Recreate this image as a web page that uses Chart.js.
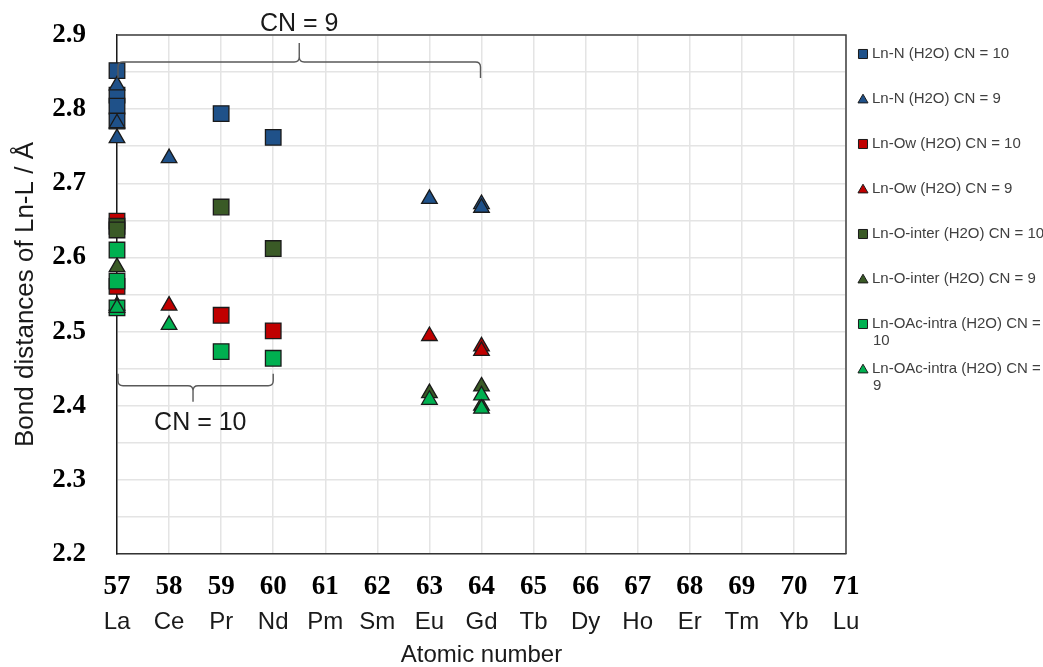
<!DOCTYPE html>
<html>
<head>
<meta charset="utf-8">
<title>Ln-L bond distances</title>
<script src="https://cdn.jsdelivr.net/npm/chart.js@4.4.0/dist/chart.umd.min.js"></script>
<style>
  html, body { margin: 0; padding: 0; background: #fff; }
  #wrap { width: 1043px; height: 667px; }
</style>
</head>
<body>
<div id="wrap"><canvas id="chart" width="1043" height="667"></canvas></div>
<script>
// x axis: atomic number + element symbol
const atomicNumbers = [57, 58, 59, 60, 61, 62, 63, 64, 65, 66, 67, 68, 69, 70, 71];
const elementSymbols = ['La', 'Ce', 'Pr', 'Nd', 'Pm', 'Sm', 'Eu', 'Gd', 'Tb', 'Dy', 'Ho', 'Er', 'Tm', 'Yb', 'Lu'];

const seriesNames = [
    'Ln-N (H2O) CN = 10',
    'Ln-N (H2O) CN = 9',
    'Ln-Ow (H2O) CN = 10',
    'Ln-Ow (H2O) CN = 9',
    'Ln-O-inter (H2O) CN = 10',
    'Ln-O-inter (H2O) CN = 9',
    'Ln-OAc-intra (H2O) CN = 10',
    'Ln-OAc-intra (H2O) CN = 9'
];

// bond distances (Å)
const lnN10X = [57, 57, 57, 57, 59, 60];
const lnN10Y = [2.852, 2.819, 2.804, 2.784, 2.794, 2.762];
const lnN9X = [57, 57, 57, 58, 63, 64, 64];
const lnN9Y = [2.832, 2.781, 2.761, 2.734, 2.679, 2.672, 2.667];
const lnOw10X = [57, 57, 59, 60];
const lnOw10Y = [2.649, 2.561, 2.522, 2.501];
const lnOw9X = [58, 63, 64, 64];
const lnOw9Y = [2.535, 2.494, 2.480, 2.474];
const lnOinter10X = [57, 57, 59, 60];
const lnOinter10Y = [2.642, 2.637, 2.668, 2.612];
const lnOinter9X = [57, 57, 63, 64, 64];
const lnOinter9Y = [2.587, 2.535, 2.417, 2.426, 2.400];
const lnOAc10X = [57, 57, 57, 59, 60];
const lnOAc10Y = [2.610, 2.568, 2.532, 2.473, 2.464];
const lnOAc9X = [57, 58, 63, 64, 64];
const lnOAc9Y = [2.532, 2.509, 2.408, 2.414, 2.396];

const blue = '#1f5189';
const red = '#c00000';
const darkGreen = '#3a5a26';
const green = '#00b050';

function toPoints(xs, ys) {
    return xs.map((x, i) => ({x: x, y: ys[i]}));
}

// square for CN = 10, triangle for CN = 9
function makeSet(i, xs, ys, color, shape) {
    return {
        label: seriesNames[i],
        data: toPoints(xs, ys),
        backgroundColor: color,
        borderColor: '#1a1a1a',
        borderWidth: 1.3,
        pointStyle: shape,
        pointRadius: shape === 'rect' ? 11 : 9,
        pointHoverRadius: shape === 'rect' ? 11 : 9,
        showLine: false,
        clip: false,
        order: 8 - i  // later series on top like the original
    };
}

const datasets = [
    makeSet(0, lnN10X, lnN10Y, blue, 'rect'),
    makeSet(1, lnN9X, lnN9Y, blue, 'triangle'),
    makeSet(2, lnOw10X, lnOw10Y, red, 'rect'),
    makeSet(3, lnOw9X, lnOw9Y, red, 'triangle'),
    makeSet(4, lnOinter10X, lnOinter10Y, darkGreen, 'rect'),
    makeSet(5, lnOinter9X, lnOinter9Y, darkGreen, 'triangle'),
    makeSet(6, lnOAc10X, lnOAc10Y, green, 'rect'),
    makeSet(7, lnOAc9X, lnOAc9Y, green, 'triangle')
];

const sansFont = '"Liberation Sans", Arial, sans-serif';
const serifFont = '"Liberation Serif", "Times New Roman", serif';

// draws a curly bracket, dir = 1 -> ends point down, tip points up
function drawBrace(ctx, x1, x2, xm, y, dir, endLen, tipLen) {
    const r = 5;
    ctx.beginPath();
    ctx.moveTo(x1, y + dir * endLen);
    ctx.lineTo(x1, y + dir * r);
    ctx.quadraticCurveTo(x1, y, x1 + r, y);
    ctx.lineTo(xm - r, y);
    ctx.quadraticCurveTo(xm, y, xm, y - dir * r);
    ctx.lineTo(xm, y - dir * tipLen);
    ctx.moveTo(xm, y - dir * r);
    ctx.quadraticCurveTo(xm, y, xm + r, y);
    ctx.lineTo(x2 - r, y);
    ctx.quadraticCurveTo(x2, y, x2, y + dir * r);
    ctx.lineTo(x2, y + dir * endLen);
    ctx.stroke();
}

// frame, CN brackets and the side legend
const extrasPlugin = {
    id: 'extras',
    afterDraw(chart) {
        const ctx = chart.ctx;
        const area = chart.chartArea;
        const xs = chart.scales.x;
        const ys = chart.scales.y;
        ctx.save();

        // top + right frame lines
        ctx.strokeStyle = '#404040';
        ctx.lineWidth = 1.5;
        ctx.beginPath();
        ctx.moveTo(area.left, area.top);
        ctx.lineTo(area.right, area.top);
        ctx.lineTo(area.right, area.bottom);
        ctx.stroke();

        // brackets
        ctx.strokeStyle = '#595959';
        ctx.lineWidth = 1.4;
        drawBrace(ctx, xs.getPixelForValue(57) + 1, xs.getPixelForValue(64) - 1, xs.getPixelForValue(60.5),
            ys.getPixelForValue(2.8635), 1, 16, 19);
        drawBrace(ctx, xs.getPixelForValue(57) + 1, xs.getPixelForValue(60), xs.getPixelForValue(58.46),
            ys.getPixelForValue(2.427), -1, 12, 16);

        ctx.fillStyle = '#1a1a1a';
        ctx.font = '25px ' + sansFont;
        ctx.textAlign = 'center';
        ctx.textBaseline = 'middle';
        ctx.fillText('CN = 9', xs.getPixelForValue(60.5), area.top - 11);
        ctx.fillText('CN = 10', xs.getPixelForValue(58.6), ys.getPixelForValue(2.376));

        // legend
        ctx.textAlign = 'left';
        ctx.font = '15px ' + sansFont;
        const legX = area.right + 17;
        datasets.forEach((ds, i) => {
            const y = 54 + i * 45;
            ctx.fillStyle = ds.backgroundColor;
            ctx.strokeStyle = '#1a1a1a';
            ctx.lineWidth = 1;
            const rad = ds.pointStyle === 'rect' ? 6.4 : 5.8;
            Chart.helpers.drawPoint(ctx, {pointStyle: ds.pointStyle, radius: rad, borderWidth: 1, rotation: 0}, legX, y + (ds.pointStyle === 'rect' ? 0 : 1));
            ctx.fillStyle = '#404040';
            let lines = [ds.label];
            if (ctx.measureText(ds.label).width > 180) {
                const cut = ds.label.lastIndexOf(' ');
                lines = [ds.label.slice(0, cut), ds.label.slice(cut + 1)];
            }
            lines.forEach((line, k) => {
                ctx.fillText(line, legX + 9 + (k ? 1 : 0), y + k * 17);
            });
        });
        ctx.restore();
    }
};

new Chart(document.getElementById('chart'), {
    type: 'scatter',
    data: {datasets: datasets},
    options: {
        responsive: false,
        animation: false,
        layout: {padding: {top: 35, right: 197, bottom: 0, left: 0}},
        plugins: {
            legend: {display: false},
            tooltip: {enabled: false}
        },
        scales: {
            x: {
                type: 'linear',
                position: 'bottom',
                min: 57,
                max: 71,
                weight: 0,
                afterFit: (s) => { s.height = 48; },
                ticks: {
                    stepSize: 1,
                    autoSkip: false,
                    maxRotation: 0,
                    padding: 17,
                    color: '#000',
                    font: {family: serifFont, size: 27, weight: 'bold'}
                },
                grid: {color: '#e4e4e4', lineWidth: 1.5, drawTicks: false},
                border: {color: '#333', width: 1.5}
            },
            x2: {
                type: 'linear',
                position: 'bottom',
                min: 57,
                max: 71,
                weight: 1,
                afterFit: (s) => { s.height = 65; },
                ticks: {
                    stepSize: 1,
                    autoSkip: false,
                    maxRotation: 0,
                    padding: 6,
                    color: '#1a1a1a',
                    font: {family: sansFont, size: 24},
                    callback: (v) => elementSymbols[atomicNumbers.indexOf(Math.round(v))]
                },
                grid: {display: false, drawTicks: false},
                border: {display: false},
                title: {
                    display: true,
                    text: 'Atomic number',
                    color: '#1a1a1a',
                    font: {family: sansFont, size: 24, lineHeight: 1},
                    padding: {top: 0, bottom: 0}
                }
            },
            y: {
                min: 2.2,
                max: 2.9,
                afterFit: (s) => {
                    s.width = 117;
                    // tick padding would otherwise push the plot top down
                    s.paddingTop = 0;
                    s.paddingBottom = 0;
                },
                ticks: {
                    stepSize: 0.05,
                    autoSkip: false,
                    padding: 31,
                    color: '#000',
                    font: {family: serifFont, size: 27, weight: 'bold'},
                    callback: (v) => {
                        const k = Math.round(v * 100);
                        return k % 10 === 0 ? (k / 100).toFixed(1) : '';
                    }
                },
                grid: {color: '#e4e4e4', lineWidth: 1.5, drawTicks: false},
                border: {color: '#1a1a1a', width: 1.5},
                title: {
                    display: true,
                    text: 'Bond distances of Ln-L / Å',
                    color: '#1a1a1a',
                    font: {family: sansFont, size: 26, lineHeight: 1},
                    padding: {top: 13, bottom: 0}
                }
            }
        }
    },
    plugins: [extrasPlugin]
});
</script>
</body>
</html>
